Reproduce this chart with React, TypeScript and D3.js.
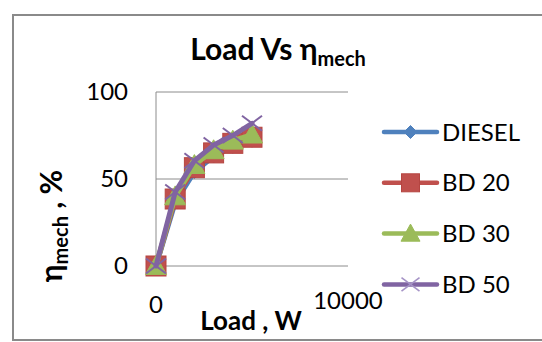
import React from 'react';
import * as d3 from 'd3';

const loads = [0, 1000, 2000, 3000, 4000, 5000];
const diesel = [0, 36.5, 54, 63, 68.5, 72];
const bd20 = [0, 38.5, 56.5, 65, 70.5, 74];
const bd30 = [0, 40, 58, 66.5, 72, 75.5];
const bd50 = [0, 42.5, 60.5, 69.5, 75, 82];
const seriesNames = ['DIESEL', 'BD 20', 'BD 30', 'BD 50'];
const seriesValues = [diesel, bd20, bd30, bd50];
const seriesColors = ['#4F81BD', '#C0504D', '#9BBB59', '#8064A2'];
const markerShapes = ['diamond', 'square', 'triangle', 'x'];
const yTicks = [0, 50, 100];
const xTicks = [0, 10000];

const W = 542;
const H = 342;
const FONT = 'Lato, "Open Sans", sans-serif';

function Marker({ shape, cx, cy, color, legend }: { shape: string; cx: number; cy: number; color: string; legend?: boolean }) {
  if (shape === 'diamond') {
    const s = 6.5;
    return <path d={`M${cx},${cy - s}L${cx + s},${cy}L${cx},${cy + s}L${cx - s},${cy}Z`} fill={color} stroke={color} strokeWidth={1} />;
  }
  if (shape === 'square') {
    const s = legend ? 9 : 10;
    return <rect x={cx - s} y={cy - s} width={2 * s} height={2 * s} fill={color} stroke="#B54541" strokeWidth={1} />;
  }
  if (shape === 'triangle') {
    const s = legend ? 9.5 : 10.5;
    return <path d={`M${cx},${cy - s}L${cx + s},${cy + s * 0.8}L${cx - s},${cy + s * 0.8}Z`} fill={color} stroke={color} strokeWidth={1} />;
  }
  const s = legend ? 9 : 10;
  return (
    <g stroke={legend ? '#A593C6' : '#8064A2'} strokeWidth={legend ? 1.6 : 2}>
      <line x1={cx - s} y1={cy - s * 0.75} x2={cx + s} y2={cy + s * 0.75} />
      <line x1={cx - s} y1={cy + s * 0.75} x2={cx + s} y2={cy - s * 0.75} />
    </g>
  );
}

export default function App() {
  const x = d3.scaleLinear().domain([0, 10000]).range([156, 348]);
  const y = d3.scaleLinear().domain([0, 100]).range([266, 92]);
  const line = d3
    .line<[number, number]>()
    .x((d) => x(d[0]))
    .y((d) => y(d[1]));

  const legendYs = seriesNames.map((_, i) => 132 + i * 50.8);

  return (
    <div style={{ position: 'fixed', left: 0, top: 0 }}>
      <svg width={W} height={H} style={{ display: 'block', fontFamily: FONT }}>
        <rect x={0} y={0} width={W} height={H} fill="#fff" />
        <rect x={13} y={15} width={W} height={325} fill="#fff" stroke="#8a8a8a" strokeWidth={2} />

        {/* title */}
        <text x={278} y={60} textAnchor="middle" fontSize={30} fontWeight="bold" fill="#000">
          Load Vs η
          <tspan fontSize={20} dy={6}>mech</tspan>
        </text>

        {/* gridlines */}
        {yTicks.map((t) => (
          <line key={t} x1={x(0)} x2={x(10000)} y1={y(t)} y2={y(t)} stroke="#8c8c8c" strokeWidth={1} />
        ))}
        <line x1={x(0)} x2={x(0)} y1={y(100)} y2={y(0)} stroke="#8c8c8c" strokeWidth={1} />

        {/* y tick labels */}
        {yTicks.map((t) => (
          <text key={t} x={128} y={y(t)} dy="0.35em" textAnchor="end" fontSize={24} fill="#000">
            {t}
          </text>
        ))}
        {/* x tick labels */}
        {xTicks.map((t, i) => (
          <text key={t} x={x(t)} y={i === xTicks.length - 1 ? 309 : 313} textAnchor="middle" fontSize={24} fill="#000">
            {t}
          </text>
        ))}

        {/* axis titles */}
        <text x={251} y={330} textAnchor="middle" fontSize={26} fontWeight="bold" fill="#000">
          Load , W
        </text>
        <text transform="translate(62,226) rotate(-90)" textAnchor="middle" fontSize={30} fontWeight="bold" fill="#000">
          η<tspan fontSize={20} dy={6}>mech</tspan>
          <tspan dy={-6}> , %</tspan>
        </text>

        {/* series */}
        {seriesValues.map((vals, si) => {
          const pts = loads.map((l, i) => [l, vals[i]] as [number, number]);
          return (
            <g key={si}>
              <path d={line(pts) || ''} fill="none" stroke={seriesColors[si]} strokeWidth={5} strokeLinejoin="round" strokeLinecap="round" />
              {pts.map((p, i) => (
                <Marker key={i} shape={markerShapes[si]} cx={x(p[0])} cy={y(p[1])} color={seriesColors[si]} />
              ))}
            </g>
          );
        })}

        {/* legend */}
        {seriesNames.map((name, i) => (
          <g key={name}>
            <line x1={384} x2={437} y1={legendYs[i]} y2={legendYs[i]} stroke={seriesColors[i]} strokeWidth={4.5} strokeLinecap="round" />
            <Marker shape={markerShapes[i]} cx={410.5} cy={legendYs[i]} color={seriesColors[i]} legend />
            <text x={442} y={legendYs[i]} dy="0.36em" fontSize={24} fill="#000">
              {name}
            </text>
          </g>
        ))}
      </svg>
    </div>
  );
}
